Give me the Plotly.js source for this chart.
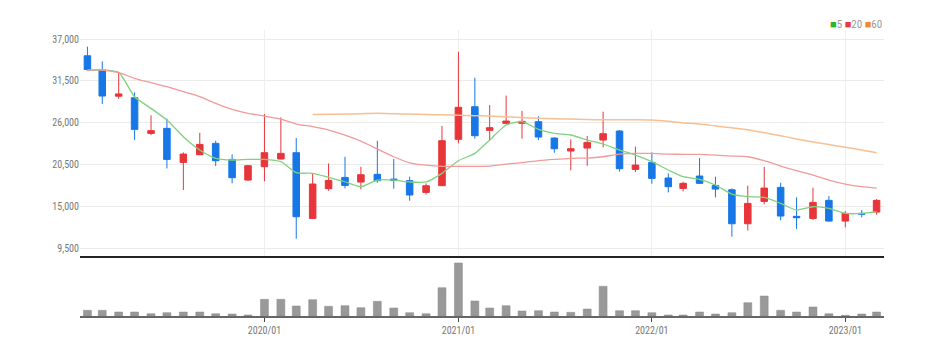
<!DOCTYPE html>
<html>
<head>
<meta charset="utf-8">
<script src="https://cdn.plot.ly/plotly-3.0.1.min.js"></script>
<style>html,body{margin:0;padding:0;background:#fff;}#chart{width:938px;height:355px;}</style>
</head>
<body>
<div id="chart"></div>
<script>
const dates = ['2019-02-01','2019-03-01','2019-04-01','2019-05-01','2019-06-01','2019-07-01','2019-08-01','2019-09-01','2019-10-01','2019-11-01','2019-12-01',
'2020-01-01','2020-02-01','2020-03-01','2020-04-01','2020-05-01','2020-06-01','2020-07-01','2020-08-01','2020-09-01','2020-10-01','2020-11-01','2020-12-01',
'2021-01-01','2021-02-01','2021-03-01','2021-04-01','2021-05-01','2021-06-01','2021-07-01','2021-08-01','2021-09-01','2021-10-01','2021-11-01','2021-12-01',
'2022-01-01','2022-02-01','2022-03-01','2022-04-01','2022-05-01','2022-06-01','2022-07-01','2022-08-01','2022-09-01','2022-10-01','2022-11-01','2022-12-01',
'2023-01-01','2023-02-01','2023-03-01'];
const openP  = [34800,32930,29500,29300,24620,25280,20820,21830,23310,21210,18500,20250,21260,22090,13470,17370,18850,18240,19250,18630,18420,16880,17760,23840,28120,25020,25940,25940,26160,24010,22310,22700,23750,24930,19900,20820,18770,17410,19030,17800,17230,12770,15700,17540,13740,13470,15840,13120,14130,14300];
const highP  = [36000,34070,32670,30000,26990,26550,22130,24710,23660,21870,20500,27160,26720,24010,19380,20690,21560,20250,23660,21260,18940,18070,25590,35340,31930,28340,29570,27560,26860,24100,23840,24280,27470,25060,22880,22130,19380,18280,21390,18940,17410,17760,20210,18150,16230,17500,16400,14440,14570,16010];
const lowP   = [32850,28470,29170,23750,24400,20030,17190,21740,20340,18070,18400,18330,21210,10810,13400,17100,17410,17280,18150,17370,15790,16620,17720,23310,23930,23620,25800,23930,23750,22090,19770,20380,22790,19600,19550,18020,16880,17020,17980,16230,11070,11860,15310,13210,12070,13260,13040,12290,13610,13960];
const closeP = [33000,29520,29800,25150,24980,21210,21910,23180,21040,18810,20380,22090,22000,13690,17980,18460,17800,19200,18420,18460,16540,17760,23660,28040,24320,25370,26240,26200,24140,22610,22610,23440,24580,19990,20470,18720,17630,18070,18070,17320,12770,15440,17450,13780,13560,15570,13120,14130,14040,15840];
const ma5  = [32900,32930,32630,29430,27900,26370,24190,22440,21350,21130,21210,21210,20910,19470,19380,18850,18280,17630,18500,18500,18250,18250,19380,21040,22000,23750,25720,26160,25150,24630,24410,23750,23230,22440,21780,20910,19820,18940,18590,17850,16670,16320,16230,15440,14570,15000,14790,14130,14130,14350];
const ma20 = [32900,32930,32580,31840,31270,30750,30090,29440,28560,27770,27250,26900,26500,25850,25500,25060,24400,23620,22570,21560,20770,20450,20300,20300,20300,20340,20600,20780,21040,21210,21350,21390,21560,21910,22000,22000,21910,21870,21870,21780,21650,21560,21040,20340,19730,19160,18500,17980,17630,17450];
const ma60 = [null,null,null,null,null,null,null,null,null,null,null,null,null,null,27100,27130,27160,27200,27250,27200,27150,27100,27050,27000,26950,26900,26800,26700,26600,26550,26500,26450,26400,26400,26400,26370,26200,26000,25850,25600,25350,25100,24700,24300,23900,23500,23150,22800,22450,22080];
const volume = [570000,570000,400000,400000,230000,330000,400000,400000,230000,200000,100000,1670000,1670000,1000000,1630000,970000,1030000,830000,1470000,800000,330000,230000,2830000,5300000,1500000,800000,1030000,500000,530000,400000,370000,700000,2970000,530000,530000,330000,100000,100000,400000,200000,330000,1330000,2000000,570000,400000,900000,230000,70000,200000,400000];
const priceTicks = [9500,15000,20500,26000,31500,37000];
const maLabels = ['5','20','60'];
const maColors = ['#7fd27f','#f29a9a','#f7bf92'];
const legendColors = ['#2cb52c','#e83b3b','#f08a2c'];

const font = 'Liberation Sans Narrow, Roboto Condensed, Arial Narrow, Liberation Sans, sans-serif';

const traces = [
  {type:'candlestick', x:dates, open:openP, high:highP, low:lowP, close:closeP, xaxis:'x', yaxis:'y',
   increasing:{line:{color:'#e8353a',width:1}, fillcolor:'#e8353a'},
   decreasing:{line:{color:'#1877e6',width:1}, fillcolor:'#1877e6'},
   whiskerwidth:0, showlegend:false, hoverinfo:'skip'},
  {type:'scatter', mode:'lines', x:dates, y:ma5, xaxis:'x', yaxis:'y', line:{color:maColors[0],width:1.3,shape:'spline',smoothing:0.6}, showlegend:false, name:maLabels[0]},
  {type:'scatter', mode:'lines', x:dates, y:ma20, xaxis:'x', yaxis:'y', line:{color:maColors[1],width:1.3,shape:'spline',smoothing:0.6}, showlegend:false, name:maLabels[1]},
  {type:'scatter', mode:'lines', x:dates, y:ma60, xaxis:'x', yaxis:'y', line:{color:maColors[2],width:1.5,shape:'spline',smoothing:0.6}, showlegend:false, name:maLabels[2]},
  {type:'bar', x:dates, y:volume, xaxis:'x2', yaxis:'y2', marker:{color:'#999999', line:{color:'#8a8a8a',width:0.5}}, width:15*86400000, showlegend:false}
];

const legendText = maLabels.map((l,i)=>'<span style="color:'+legendColors[i]+'">■</span><span style="color:#999">'+l+'</span>').join(' ');

const layout = {
  width:938, height:355,
  margin:{l:80, r:54, t:30, b:39},
  paper_bgcolor:'#fff', plot_bgcolor:'#fff',
  font:{family:font, size:10, color:'#777'},
  boxgap:0.56, boxgroupgap:0,
  showlegend:false,
  xaxis:{type:'date', range:['2019-01-18','2023-03-15'], anchor:'y', rangeslider:{visible:false},
    tick0:'2020-01-01', dtick:'M12', showticklabels:false, showgrid:true, gridcolor:'#eeeeee', gridwidth:1,
    showline:true, linecolor:'#222', linewidth:2, zeroline:false, ticks:''},
  yaxis:{domain:[0.2098,1], range:[8542,38181], tickvals:priceTicks, tickformat:',d', showgrid:true, gridcolor:'#ebebeb',
    zeroline:false, ticks:'', tickfont:{size:10,color:'#777'}},
  xaxis2:{type:'date', range:['2019-01-18','2023-03-15'], anchor:'y2', matches:'x',
    tick0:'2020-01-01', dtick:'M12', tickformat:'%Y/%m', showgrid:false, showline:true, linecolor:'#666', linewidth:2,
    ticks:'outside', ticklen:4, tickcolor:'#444', tickfont:{size:10,color:'#777'}, zeroline:false},
  yaxis2:{domain:[0,0.2028], range:[0,5800000], showticklabels:false, showgrid:false, zeroline:false, ticks:''},
  annotations:[{xref:'paper', yref:'paper', x:1.0, y:1.0175, xanchor:'right', yanchor:'middle', showarrow:false,
    text:legendText, font:{family:font, size:11}}]
};

Plotly.newPlot('chart', traces, layout, {staticPlot:true, displayModeBar:false});
</script>
</body>
</html>
